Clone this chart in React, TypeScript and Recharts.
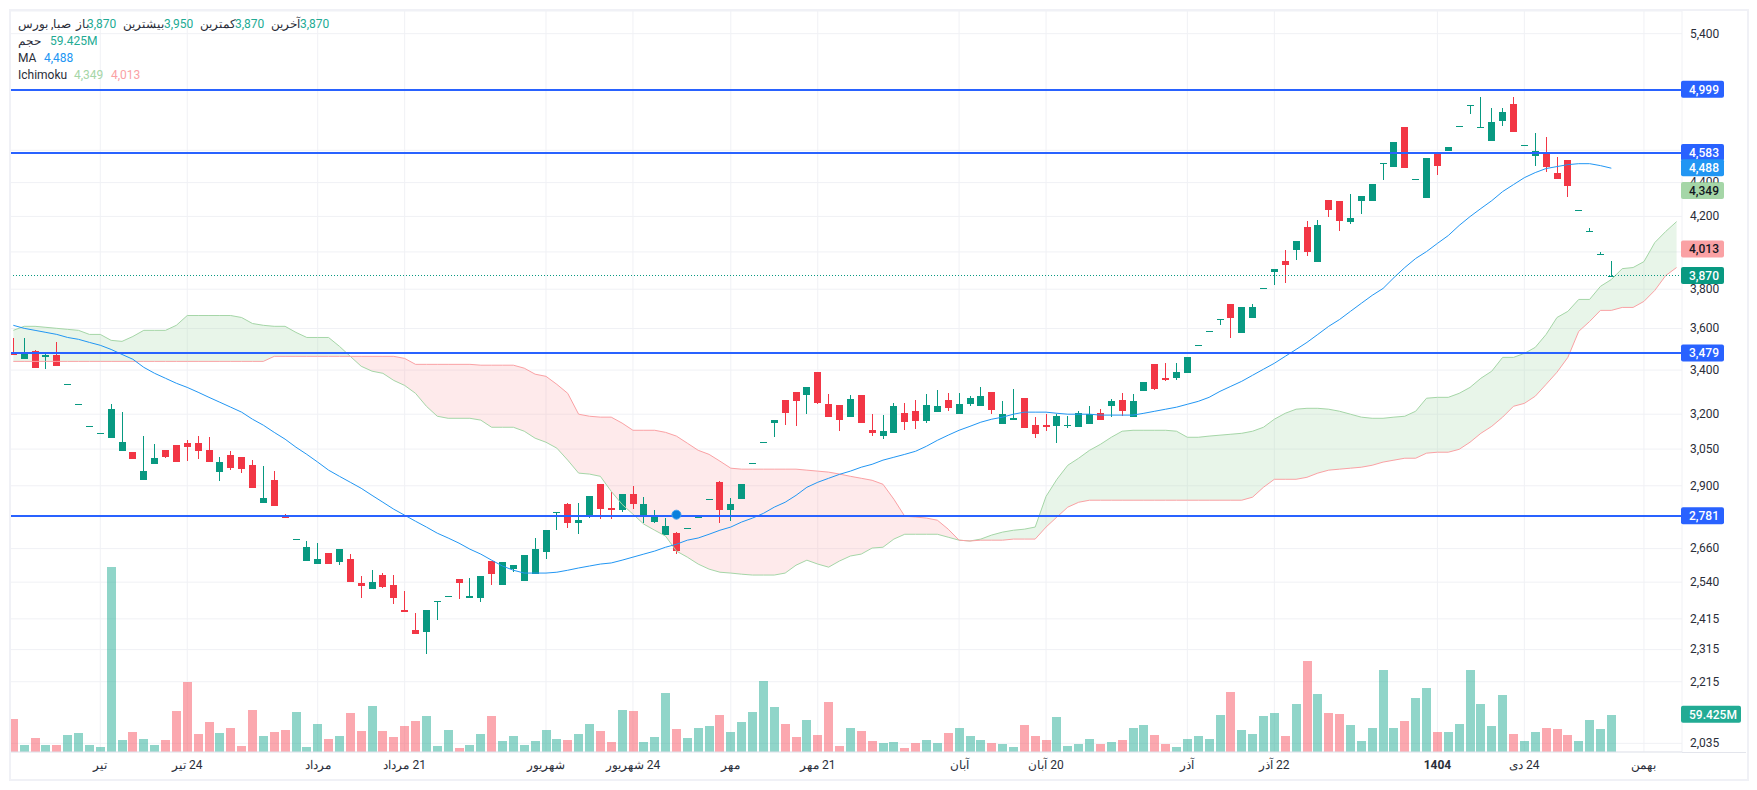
import React from 'react'
import {
  Area,
  Bar,
  CartesianGrid,
  ComposedChart,
  Line,
  ReferenceDot,
  ReferenceLine,
  XAxis,
  YAxis,
} from 'recharts'

const UP = '#089981'
const DOWN = '#f23645'
const LEVEL = '#2962ff'
const GRID = '#f0f1f5'
const TEXT = '#2a2e39'

const opens = [
  3478,3451,3489,3460,3470,3337,3247,3150,3120,3096,
  3041,3037,2922,2987,3045,3066,3075,3075,3045,2955,
  3024,3016,2983,2831,2922,2779,2694,2615,2604,2644,
  2611,2622,2537,2516,2565,2530,2445,2379,2372,2472,
  2492,2551,2485,2485,2615,2530,2586,2544,2568,2647,
  2792,2827,2755,2778,2906,2812,2804,2866,2785,2759,
  2710,2717,2736,2778,2847,2914,2804,2847,2992,3079,
  3161,3262,3298,3284,3390,3244,3240,3187,3284,3130,
  3105,3117,3204,3213,3169,3209,3262,3200,3244,3235,
  3298,3156,3174,3271,3152,3152,3147,3147,3143,3156,
  3204,3235,3262,3187,3302,3427,3362,3362,3385,3518,
  3586,3648,3722,3576,3655,3804,3893,3953,4008,4142,
  3947,4298,4292,4170,4292,4292,4516,4498,4751,4424,
  4310,4579,4598,4758,4889,4745,4661,4790,4904,4635,
  4566,4591,4461,4541,4240,4114,3991,3870,
]

const highs = [
  3552,3552,3493,3479,3532,3337,3247,3150,3120,3244,
  3209,3037,3105,3070,3045,3066,3087,3105,3100,3016,
  3041,3016,3004,2979,2959,2789,2694,2688,2680,2644,
  2658,2640,2561,2582,2572,2565,2509,2435,2445,2475,
  2492,2551,2555,2561,2615,2611,2600,2636,2699,2728,
  2796,2831,2831,2858,2906,2874,2866,2898,2855,2804,
  2774,2721,2736,2778,2847,2918,2851,2906,2992,3079,
  3174,3262,3298,3320,3390,3288,3240,3284,3284,3200,
  3196,3248,3248,3262,3288,3307,3293,3293,3280,3320,
  3298,3257,3311,3271,3187,3200,3200,3191,3213,3235,
  3222,3266,3293,3288,3343,3427,3432,3432,3460,3518,
  3586,3650,3722,3706,3722,3804,3909,4013,4058,4176,
  4182,4298,4292,4334,4322,4394,4522,4654,4751,4424,
  4554,4591,4623,4758,4896,4951,4877,4877,4951,4635,
  4712,4686,4560,4541,4240,4131,4002,3950,
]

const lows = [
  3470,3451,3409,3404,3418,3337,3247,3150,3120,3096,
  3041,3008,2922,2987,3012,2996,3000,3008,2996,2918,
  2963,2951,2890,2831,2820,2775,2694,2615,2604,2604,
  2600,2541,2485,2516,2520,2465,2438,2366,2301,2412,
  2492,2482,2485,2472,2530,2530,2575,2544,2568,2622,
  2728,2736,2713,2774,2770,2770,2796,2808,2755,2755,
  2710,2640,2736,2778,2847,2755,2762,2847,2992,3079,
  3100,3152,3147,3200,3244,3187,3126,3187,3161,3105,
  3092,3117,3130,3134,3161,3209,3213,3200,3235,3235,
  3200,3156,3174,3139,3096,3126,3075,3139,3143,3156,
  3174,3187,3191,3187,3302,3307,3348,3352,3385,3518,
  3586,3616,3552,3576,3655,3804,3820,3830,3958,3980,
  3947,4199,4119,4159,4216,4292,4418,4498,4492,4424,
  4310,4448,4598,4758,4837,4745,4661,4758,4719,4635,
  4504,4467,4424,4316,4240,4114,3991,3870,
]

const closes = [
  3470,3482,3409,3470,3418,3337,3247,3150,3120,3222,
  3079,3008,2959,3012,3016,2996,3058,3041,2996,2996,
  2971,2967,2890,2851,2820,2775,2694,2665,2622,2604,
  2658,2541,2526,2541,2523,2485,2438,2366,2445,2475,
  2492,2537,2492,2561,2568,2611,2600,2636,2658,2728,
  2796,2755,2766,2858,2808,2804,2866,2827,2827,2785,
  2743,2651,2736,2778,2847,2804,2827,2906,2992,3079,
  3174,3204,3257,3320,3248,3187,3174,3266,3161,3117,
  3126,3235,3165,3169,3240,3235,3226,3244,3271,3280,
  3218,3200,3182,3139,3113,3143,3191,3152,3204,3200,
  3174,3257,3213,3257,3343,3311,3352,3390,3460,3518,
  3586,3650,3655,3706,3706,3804,3909,3931,4058,3997,
  4148,4240,4176,4193,4322,4394,4522,4654,4492,4424,
  4554,4504,4623,4758,4896,4751,4784,4851,4719,4635,
  4598,4498,4424,4382,4240,4114,3991,3870,
]

// حجم، میلیون سهم
const volumes = [
  53,11.7,22.8,11.7,11.7,27.6,30.7,11.7,8.5,294,
  19.6,32.3,21.2,11.7,19.6,65.7,111.8,29.2,48.2,30.7,
  38.7,10.1,67.3,26,32.3,35.5,64.1,8.5,45,21.2,
  26,62.5,33.9,73.7,33.9,24.4,41.9,49.8,57.8,10.1,
  35.5,6.9,11.7,29.2,57.8,18,26,11.7,18,35.5,
  21.2,19.6,29.2,45,33.9,16.4,67.3,65.7,16.4,24.4,
  94.3,37.1,22.8,38.7,41.9,59.4,32.3,48.2,64.1,113.4,
  72.1,45,24.4,51.4,27.6,80,10.1,38.7,33.9,18,
  14.8,16.4,6.9,14.8,19.6,14.8,30.7,38.7,26,19.6,
  14.8,13.3,8.5,43.5,26,19.6,56.2,10.1,13.3,21.2,
  13.3,16.4,19.6,38.7,43.5,27.6,13.3,8.5,21.2,26,
  21.2,59.4,95.9,35.5,29.2,57.8,62.5,26,76.9,145.2,
  92.8,62.5,61,43.5,18,38.7,130.9,38.7,49.8,86.4,
  102.3,32.3,32.3,45,130.9,76.9,41.9,91.2,29.2,18,
  32.3,38.7,37.1,27.6,18,51.4,37.1,59.425,
]

const maValues = [
  3616,3601,3591,3581,3571,3556,3547,3532,3518,3498,
  3474,3451,3413,3385,3362,3339,3320,3298,3275,3253,
  3231,3209,3178,3152,3121,3092,3058,3028,2996,2963,
  2938,2914,2890,2862,2835,2808,2785,2762,2740,2717,
  2699,2680,2658,2640,2618,2597,2582,2572,2572,2572,
  2575,2582,2590,2597,2604,2608,2618,2629,2640,2651,
  2665,2676,2691,2699,2713,2728,2740,2759,2774,2792,
  2816,2835,2862,2894,2914,2930,2946,2959,2975,2987,
  3004,3016,3028,3041,3062,3087,3109,3130,3147,3165,
  3178,3187,3200,3209,3209,3209,3204,3200,3200,3200,
  3196,3196,3196,3196,3204,3213,3222,3231,3244,3257,
  3275,3302,3325,3348,3376,3404,3432,3465,3498,3532,
  3571,3611,3645,3686,3727,3768,3804,3861,3915,3964,
  4002,4047,4091,4148,4199,4246,4292,4346,4388,4430,
  4461,4486,4498,4510,4516,4516,4504,4488,
]

const spanA = [
  3591,3611,3611,3606,3601,3596,3591,3571,3571,3542,
  3537,3561,3591,3591,3591,3616,3665,3665,3665,3665,
  3665,3655,3625,3616,3611,3611,3581,3556,3556,3556,
  3513,3465,3418,3395,3385,3352,3329,3293,3235,3191,
  3182,3182,3182,3174,3143,3143,3143,3126,3096,3079,
  3054,3004,2951,2947,2938,2878,2827,2789,2751,2728,
  2706,2651,2629,2604,2586,2575,2572,2568,2565,2565,
  2565,2572,2600,2618,2604,2593,2615,2633,2640,2662,
  2665,2695,2713,2713,2713,2713,2702,2691,2688,2695,
  2710,2721,2728,2732,2740,2858,2926,2983,3012,3045,
  3070,3100,3126,3130,3130,3130,3130,3126,3100,3100,
  3105,3109,3113,3117,3126,3143,3178,3204,3222,3226,
  3226,3222,3213,3200,3187,3182,3182,3187,3191,3213,
  3271,3275,3275,3293,3320,3362,3395,3460,3460,3479,
  3508,3571,3655,3686,3747,3747,3815,3851,3909,3915,
  3947,4052,4114,4170,
]

const spanB = [
  3441,3441,3441,3441,3441,3441,3441,3441,3441,3441,
  3441,3441,3441,3441,3441,3441,3441,3441,3441,3441,
  3441,3441,3441,3441,3465,3465,3465,3465,3465,3465,
  3465,3465,3465,3465,3465,3465,3455,3427,3427,3427,
  3427,3427,3427,3423,3423,3423,3423,3409,3381,3371,
  3334,3293,3200,3191,3187,3187,3161,3130,3130,3130,
  3121,3105,3075,3045,3028,3000,2971,2967,2967,2967,
  2967,2967,2967,2963,2959,2955,2947,2938,2930,2922,
  2906,2847,2781,2778,2774,2766,2732,2691,2688,2691,
  2691,2691,2695,2695,2695,2740,2778,2816,2835,2843,
  2843,2843,2843,2843,2843,2843,2843,2843,2843,2843,
  2843,2843,2843,2843,2855,2894,2926,2926,2926,2934,
  2951,2963,2967,2971,2975,2983,2996,3004,3012,3012,
  3033,3037,3037,3049,3079,3117,3147,3187,3235,3248,
  3280,3334,3390,3460,3586,3635,3691,3691,3706,3706,
  3737,3794,3872,3915,
]

const priceTicks = [5400,5000,4600,4400,4200,4000,3800,3600,3400,3200,3050,2900,2780,2660,2540,2415,2315,2215,2035]
// این خطوط شبکه برچسب دارند ولی زیر برچسب قیمت پنهان می‌شوند
const coveredTicks = [5000, 4600, 4000, 2780]
const levels = [4999, 4583, 3479, 2781]

const timeTicks = [8, 16, 28, 36, 49, 57, 66, 74, 87, 95, 108, 116, 131, 139, 150]
const timeLabels = ['تیر', '24 تیر', 'مرداد', '21 مرداد', 'شهریور', '24 شهریور', 'مهر', '21 مهر', 'آبان', '20 آبان', 'آذر', '22 آذر', '1404', '24 دی', 'بهمن']

const rows = spanA.map((a, i) => {
  const b = spanB[i]
  const hasCandle = i < opens.length
  return {
    idx: i,
    open: hasCandle ? opens[i] : null,
    close: hasCandle ? closes[i] : null,
    wick: hasCandle ? [lows[i], highs[i]] : null,
    body: hasCandle ? [Math.min(opens[i], closes[i]), Math.max(opens[i], closes[i])] : null,
    volume: hasCandle ? volumes[i] : null,
    ma: hasCandle ? maValues[i] : null,
    spanA: a,
    spanB: b,
    greenCloud: a >= b ? [b, a] : null,
    redCloud: a <= b ? [a, b] : null,
  }
})

function candleColor(p: any) {
  return p.close >= p.open ? UP : DOWN
}

function WickShape({ x, y, width, height, payload }: any) {
  if (!payload || payload.open == null || !height) return null
  return <rect x={Math.floor(x + width / 2)} y={y} width={1} height={height} fill={candleColor(payload)} shapeRendering="crispEdges" />
}

function BodyShape({ x, y, width, height, payload }: any) {
  if (!payload || payload.open == null) return null
  return (
    <rect
      x={Math.floor(x + width / 2) - 3}
      y={y}
      width={7}
      height={Math.max(height, 1)}
      fill={candleColor(payload)}
      shapeRendering="crispEdges"
    />
  )
}

function VolumeShape({ x, y, width, height, payload }: any) {
  if (!payload || payload.open == null) return null
  return (
    <rect
      x={Math.floor(x + width / 2) - 4}
      y={y}
      width={9}
      height={height}
      fill={payload.close >= payload.open ? '#22ab94' : '#f7525f'}
      fillOpacity={0.5}
      shapeRendering="crispEdges"
    />
  )
}

function PriceBadge({ viewBox, text, bg, color, w = 43 }: any) {
  if (!viewBox) return null
  const left = viewBox.x + viewBox.width
  const cy = viewBox.y
  return (
    <g>
      <rect x={left - 1} y={cy - 9} width={w} height={17} rx={2} fill={bg} />
      <text x={left + 7} y={cy} dy="0.32em" fontFamily="Roboto" fontSize={12} fontWeight={500} fill={color}>
        {text}
      </text>
    </g>
  )
}

function PriceTick({ x, y, payload }: any) {
  if (coveredTicks.includes(payload.value)) return null
  const label = payload.value.toLocaleString('en-US')
  const text = (
    <text x={x} y={y} dy="0.32em" fontFamily="Roboto" fontSize={12} fill={TEXT}>
      {label}
    </text>
  )
  // نیمه پایین 4,400 پشت برچسب 4,349 است
  if (payload.value === 4400) {
    return (
      <g>
        <clipPath id="tick4400">
          <rect x={x - 2} y={y - 10} width={50} height={10} />
        </clipPath>
        <g clipPath="url(#tick4400)">{text}</g>
      </g>
    )
  }
  return text
}

function TimeTick({ x, y, payload }: any) {
  const label = timeLabels[timeTicks.indexOf(payload.value)]
  return (
    <text
      x={x}
      y={y + 5}
      dy="0.32em"
      direction="rtl"
      textAnchor="middle"
      fontFamily="Roboto"
      fontSize={12}
      fontWeight={label === '1404' ? 700 : 400}
      fill={TEXT}
    >
      {label}
    </text>
  )
}

type LegendItem = { left: number; top: number; text: string; color: string }

const legendItems: LegendItem[] = [
  { left: 18, top: 24, text: 'صبا, بورس', color: TEXT },
  { left: 76, top: 24, text: 'باز', color: TEXT },
  { left: 87, top: 24, text: '3,870', color: '#22ab94' },
  { left: 123, top: 24, text: 'بیشترین', color: TEXT },
  { left: 164, top: 24, text: '3,950', color: '#22ab94' },
  { left: 200, top: 24, text: 'کمترین', color: TEXT },
  { left: 235, top: 24, text: '3,870', color: '#22ab94' },
  { left: 271, top: 24, text: 'آخرین', color: TEXT },
  { left: 300, top: 24, text: '3,870', color: '#22ab94' },
  { left: 18, top: 41, text: 'حجم', color: TEXT },
  { left: 50, top: 41, text: '59.425M', color: '#22ab94' },
  { left: 18, top: 58, text: 'MA', color: TEXT },
  { left: 44, top: 58, text: '4,488', color: '#2196f3' },
  { left: 18, top: 75, text: 'Ichimoku', color: TEXT },
  { left: 74, top: 75, text: '4,349', color: '#a5d6a7' },
  { left: 111, top: 75, text: '4,013', color: '#faa1a4' },
]

export default function App() {
  return (
    <div style={{ position: 'absolute', left: 0, top: 0, width: 1757, height: 790, background: '#fff', overflow: 'hidden' }}>
      <ComposedChart
        width={1757}
        height={790}
        data={rows}
        margin={{ top: 11, right: 0, bottom: 0, left: 7.87 }}
      >
        <XAxis
          xAxisId="main"
          dataKey="idx"
          type="category"
          ticks={timeTicks}
          interval={0}
          height={38}
          tick={<TimeTick />}
          tickLine={false}
          axisLine={{ stroke: '#e3e5ec' }}
        />
        <XAxis xAxisId="wick" dataKey="idx" type="category" hide />
        <XAxis xAxisId="vol" dataKey="idx" type="category" hide />
        <YAxis
          yAxisId="price"
          orientation="right"
          scale="log"
          domain={[2011, 5571]}
          allowDataOverflow
          ticks={priceTicks}
          interval={0}
          width={75}
          axisLine={false}
          tickLine={false}
          tick={<PriceTick />}
        />
        <YAxis yAxisId="vol" hide domain={[0, 1180]} />
        <CartesianGrid xAxisId="main" yAxisId="price" stroke={GRID} strokeWidth={1} />

        <Bar xAxisId="vol" yAxisId="vol" dataKey="volume" barSize={9} shape={<VolumeShape />} isAnimationActive={false} />

        <Area xAxisId="main" yAxisId="price" dataKey="greenCloud" stroke="none" fill="#a5d6a7" fillOpacity={0.25} dot={false} activeDot={false} isAnimationActive={false} />
        <Area xAxisId="main" yAxisId="price" dataKey="redCloud" stroke="none" fill="#faa1a4" fillOpacity={0.22} dot={false} activeDot={false} isAnimationActive={false} />
        <Line xAxisId="main" yAxisId="price" dataKey="spanA" stroke="#a5d6a7" strokeWidth={1} dot={false} activeDot={false} isAnimationActive={false} />
        <Line xAxisId="main" yAxisId="price" dataKey="spanB" stroke="#faa1a4" strokeWidth={1} dot={false} activeDot={false} isAnimationActive={false} />
        <Line xAxisId="main" yAxisId="price" dataKey="ma" stroke="#2196f3" strokeWidth={1} dot={false} activeDot={false} isAnimationActive={false} />

        <ReferenceLine xAxisId="main" yAxisId="price" y={3870} stroke={UP} strokeDasharray="1 2" shapeRendering="crispEdges" label={<PriceBadge text="3,870" bg={UP} color="#fff" />} />
        {levels.map((v) => (
          <ReferenceLine
            key={v}
            xAxisId="main"
            yAxisId="price"
            y={v}
            stroke={LEVEL}
            strokeWidth={2}
            shapeRendering="crispEdges"
            label={<PriceBadge text={v.toLocaleString('en-US')} bg={LEVEL} color="#fff" />}
          />
        ))}
        <ReferenceLine xAxisId="main" yAxisId="price" y={4488} stroke="none" label={<PriceBadge text="4,488" bg="#2196f3" color="#fff" />} />
        <ReferenceLine xAxisId="main" yAxisId="price" y={4349} stroke="none" label={<PriceBadge text="4,349" bg="#a5d6a7" color="#131722" />} />
        <ReferenceLine xAxisId="main" yAxisId="price" y={4013} stroke="none" label={<PriceBadge text="4,013" bg="#faa1a4" color="#131722" />} />
        <ReferenceLine xAxisId="main" yAxisId="vol" y={59.425} stroke="none" label={<PriceBadge text="59.425M" bg="#22ab94" color="#fff" w={60} />} />

        <Bar xAxisId="wick" yAxisId="price" dataKey="wick" barSize={1} shape={<WickShape />} isAnimationActive={false} />
        <Bar xAxisId="main" yAxisId="price" dataKey="body" barSize={7} shape={<BodyShape />} isAnimationActive={false} />
        <ReferenceDot xAxisId="main" yAxisId="price" x={61} y={2787} r={4.5} fill="#0a7fdc" stroke="#3f9ff0" strokeWidth={1} />
      </ComposedChart>

      {/* قاب دور نمودار */}
      <div style={{ position: 'absolute', left: 0, top: 0, width: 9, height: 790, background: '#fff' }} />
      <div style={{ position: 'absolute', left: 9, top: 9, width: 1736, height: 768, border: '2px solid #f0f1f6', pointerEvents: 'none' }} />
      <div style={{ position: 'absolute', left: 1682, top: 752, width: 64, height: 1, background: '#e3e5ec' }} />

      {legendItems.map((item, i) => (
        <span
          key={i}
          style={{
            position: 'absolute',
            left: item.left,
            top: item.top - 8,
            fontFamily: 'Roboto',
            fontSize: 12,
            lineHeight: '16px',
            color: item.color,
            whiteSpace: 'nowrap',
          }}
        >
          {item.text}
        </span>
      ))}
    </div>
  )
}
